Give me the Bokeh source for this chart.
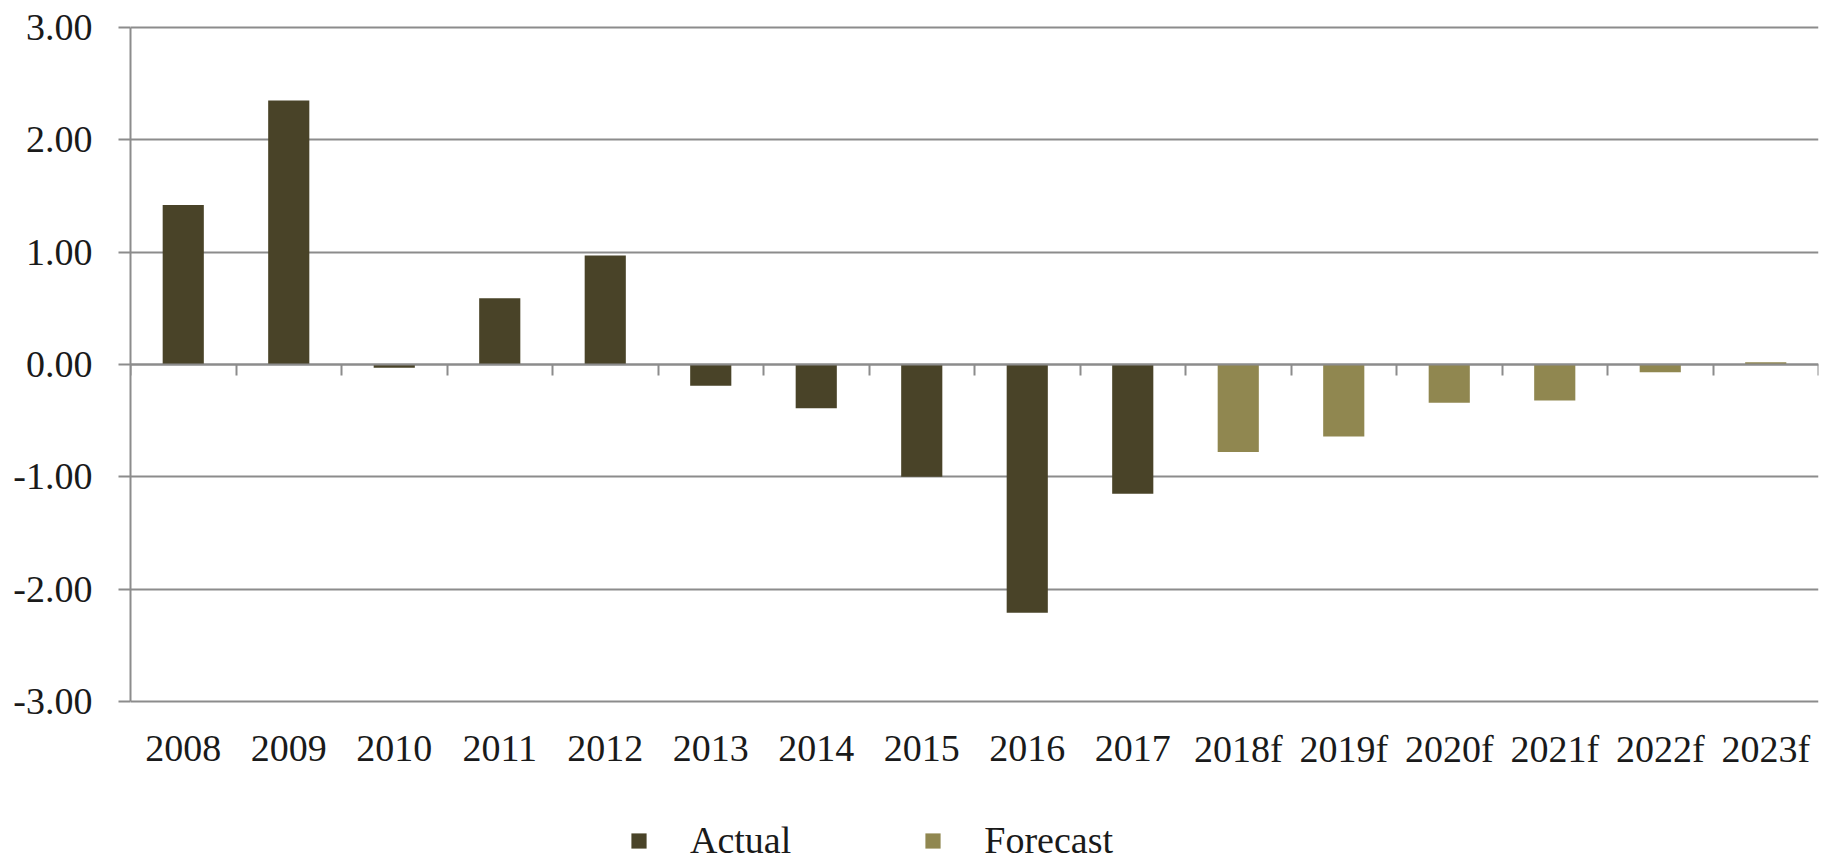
from bokeh.plotting import figure
from bokeh.models import (Range1d, FixedTicker, LinearAxis, Legend, LegendItem,
                          ColumnDataSource, Grid)
from bokeh.core.properties import value
from bokeh.embed import file_html
from bokeh.resources import INLINE

categories = ["2008", "2009", "2010", "2011", "2012", "2013", "2014", "2015",
              "2016", "2017", "2018f", "2019f", "2020f", "2021f", "2022f", "2023f"]
actual_years = ["2008", "2009", "2010", "2011", "2012", "2013", "2014", "2015", "2016", "2017"]
actual_values = [1.42, 2.35, -0.03, 0.59, 0.97, -0.19, -0.39, -1.00, -2.21, -1.15]
forecast_years = ["2018f", "2019f", "2020f", "2021f", "2022f", "2023f"]
forecast_values = [-0.78, -0.64, -0.34, -0.32, -0.07, 0.02]
y_ticks = [-3, -2, -1, 0, 1, 2, 3]

ACTUAL_COLOR = "#494328"
FORECAST_COLOR = "#908750"
GRID_COLOR = "#8c8c8c"
FONT = "Liberation Serif"
FONT_SIZE = "38px"
TEXT_COLOR = "#1a1a1a"

# layout (pixels)
W, H = 1827, 863
LEFT, RIGHT = 130, 9
TOP_LINE_PX, BOTTOM_LINE_PX = 27, 701
unit_px = (BOTTOM_LINE_PX - TOP_LINE_PX) / (max(y_ticks) - min(y_ticks))
y_end = max(y_ticks) + TOP_LINE_PX / unit_px
y_start = min(y_ticks) - (H - BOTTOM_LINE_PX) / unit_px

pos = {c: i + 0.5 for i, c in enumerate(categories)}
src_a = ColumnDataSource(dict(x=[pos[c] for c in actual_years], top=actual_values))
src_f = ColumnDataSource(dict(x=[pos[c] for c in forecast_years], top=forecast_values))
src_lab = ColumnDataSource(dict(x=[pos[c] for c in categories],
                                y=[min(y_ticks)] * len(categories),
                                text=categories))

p = figure(width=W, height=H,
           x_range=Range1d(0, len(categories)), y_range=Range1d(y_start, y_end),
           output_backend="svg", toolbar_location=None,
           x_axis_location=None, y_axis_location=None,
           min_border_left=LEFT, min_border_right=RIGHT,
           min_border_top=0, min_border_bottom=0)
p.outline_line_color = None
p.background_fill_color = "white"
p.center = [r for r in p.center if not isinstance(r, Grid)]

# horizontal gridlines
p.add_layout(Grid(dimension=1, ticker=FixedTicker(ticks=y_ticks),
                  grid_line_color=GRID_COLOR, grid_line_width=2))

r_a = p.vbar(x="x", top="top", bottom=0, width=0.39, source=src_a,
             fill_color=ACTUAL_COLOR, line_color=None)
r_f = p.vbar(x="x", top="top", bottom=0, width=0.39, source=src_f,
             fill_color=FORECAST_COLOR, line_color=None)

# left value axis
yaxis = LinearAxis(ticker=FixedTicker(ticks=y_ticks), bounds=(min(y_ticks), max(y_ticks)),
                   major_label_overrides={t: f"{t:.2f}" for t in y_ticks})
yaxis.axis_line_color = GRID_COLOR
yaxis.axis_line_width = 2
yaxis.major_tick_line_color = GRID_COLOR
yaxis.major_tick_line_width = 2
yaxis.major_tick_out = 12
yaxis.major_tick_in = 0
yaxis.minor_tick_line_color = None
yaxis.major_label_standoff = 26
yaxis.major_label_text_font = FONT
yaxis.major_label_text_font_size = FONT_SIZE
yaxis.major_label_text_color = TEXT_COLOR
p.add_layout(yaxis, "left")

# category axis line at zero with ticks between categories
boundaries = list(range(len(categories) + 1))
zaxis = LinearAxis(fixed_location=0, ticker=FixedTicker(ticks=boundaries),
                   major_label_overrides={b: "" for b in boundaries})
zaxis.axis_line_color = GRID_COLOR
zaxis.axis_line_width = 2
zaxis.major_tick_line_color = GRID_COLOR
zaxis.major_tick_line_width = 2
zaxis.major_tick_in = 11
zaxis.major_tick_out = 0
zaxis.minor_tick_line_color = None
zaxis.major_label_standoff = 0
p.add_layout(zaxis, "above")

# category labels below the plot area
p.text(x="x", y="y", text="text", source=src_lab, y_offset=47,
       text_align="center", text_baseline="middle",
       text_font=value(FONT), text_font_size=value(FONT_SIZE),
       text_color=TEXT_COLOR)

legend = Legend(items=[LegendItem(label="Actual", renderers=[r_a]),
                       LegendItem(label="Forecast", renderers=[r_f])],
                location=(499, 1), orientation="horizontal",
                glyph_width=19, glyph_height=19, label_standoff=42, spacing=132,
                padding=0, margin=0, border_line_color=None,
                background_fill_alpha=0,
                label_text_font=FONT, label_text_font_size=FONT_SIZE,
                label_text_color=TEXT_COLOR)
p.add_layout(legend, "center")

open("out.html", "w").write(file_html(p, INLINE))
